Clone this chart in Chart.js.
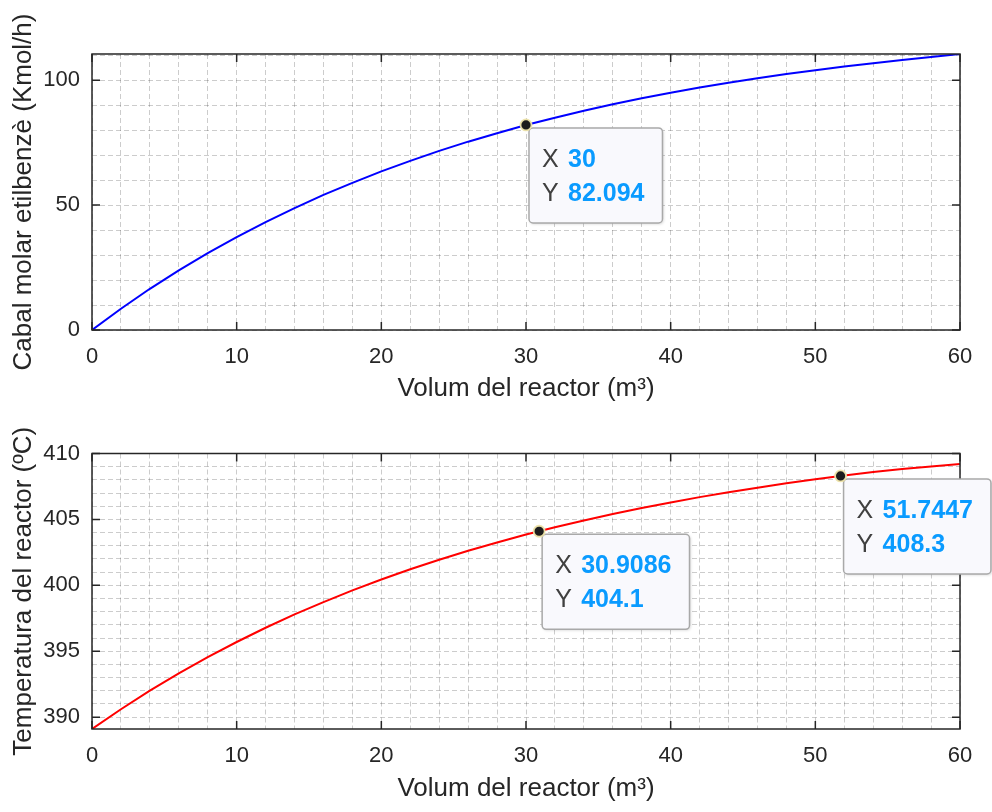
<!DOCTYPE html>
<html><head><meta charset="utf-8">
<script src="https://cdn.jsdelivr.net/npm/chart.js@4.4.1/dist/chart.umd.min.js"></script>
<style>
html,body{margin:0;padding:0;background:#fff;}
#wrap{position:relative;width:992px;height:812px;background:#fff;}
.c{position:absolute;left:0;width:992px;height:406px;}
canvas{display:block;}
</style></head><body>
<div id="wrap">
<div class="c" style="top:0"><canvas id="topChart" width="992" height="406"></canvas></div>
<div class="c" style="top:406px"><canvas id="botChart" width="992" height="406"></canvas></div>
</div>
<script>
// ---- data ----
const volume = [0,2,4,6,8,10,12,14,16,18,20,22,24,26,28,30,32,34,36,38,40,42,44,46,48,50,52,54,56,58,60];
const flowEB = [0,8.5,16.5,23.9,30.8,37.2,43.2,48.8,54.1,58.9,63.5,67.7,71.7,75.4,78.8,82.094,85.0,87.8,90.4,92.8,95.0,97.1,99.0,100.8,102.5,104.0,105.5,106.8,108.1,109.3,110.5];
const tempReactor = [389.1,390.6,392.01,393.32,394.55,395.7,396.78,397.79,398.73,399.62,400.44,401.22,401.94,402.62,403.25,403.85,404.4,404.92,405.41,405.86,406.29,406.69,407.06,407.41,407.74,408.04,408.33,408.6,408.82,409.02,409.2];
const xMajorTicks = [0,10,20,30,40,50,60];
const flowMajorTicks = [0,50,100];
const tempMajorTicks = [390,395,400,405,410];
const flowTipX = [30];
const flowTipY = [82.094];
const tempTipX = [30.9086, 51.7447];
const tempTipY = [404.1, 408.3];
const xTitle = 'Volum del reactor (m³)';
const flowTitle = 'Cabal molar etilbenzè (Kmol/h)';
const tempTitle = 'Temperatura del reactor (ºC)';

const FONT = '"Liberation Sans", Arial, Helvetica, sans-serif';
Chart.defaults.font.family = FONT;
Chart.defaults.color = '#262626';

const matlabAxes = {
  id: 'matlabAxes',
  afterDraw(chart, args, opts) {
    const {ctx, chartArea: a} = chart;
    const x = chart.scales.x, y = chart.scales.y;
    ctx.save();
    ctx.strokeStyle = '#262626';
    ctx.lineWidth = 1.5;
    ctx.beginPath();
    opts.xMajor.forEach(v => {
      const px = x.getPixelForValue(v);
      ctx.moveTo(px, a.bottom); ctx.lineTo(px, a.bottom - 8);
      ctx.moveTo(px, a.top); ctx.lineTo(px, a.top + 8);
    });
    opts.yMajor.forEach(v => {
      const py = y.getPixelForValue(v);
      ctx.moveTo(a.left, py); ctx.lineTo(a.left + 8, py);
      ctx.moveTo(a.right, py); ctx.lineTo(a.right - 8, py);
    });
    ctx.stroke();
    ctx.strokeRect(a.left, a.top, a.right - a.left, a.bottom - a.top);

    // data tips
    opts.tipX.forEach((vx, i) => {
      const vy = opts.tipY[i];
      const px = x.getPixelForValue(vx), py = y.getPixelForValue(vy);
      const sx = String(vx), sy = String(vy);
      ctx.font = 'bold 25px ' + FONT;
      const vw = Math.max(ctx.measureText(sx).width, ctx.measureText(sy).width);
      const bx = px + 3, by = py + 3, bw = 39 + vw + 18, bh = 95;
      ctx.save();
      ctx.shadowColor = 'rgba(0,0,0,0.18)';
      ctx.shadowBlur = 3; ctx.shadowOffsetX = 1; ctx.shadowOffsetY = 1;
      ctx.beginPath();
      ctx.roundRect(bx, by, bw, bh, 4);
      ctx.fillStyle = '#f9f9fd';
      ctx.fill();
      ctx.restore();
      ctx.beginPath();
      ctx.roundRect(bx, by, bw, bh, 4);
      ctx.strokeStyle = '#a9a9a9';
      ctx.lineWidth = 1.5;
      ctx.stroke();
      ctx.textBaseline = 'middle';
      ctx.textAlign = 'left';
      ctx.font = '25px ' + FONT;
      ctx.fillStyle = '#404040';
      ctx.fillText('X', bx + 13, by + 32);
      ctx.fillText('Y', bx + 13, by + 66);
      ctx.font = 'bold 25px ' + FONT;
      ctx.fillStyle = '#0a9bff';
      ctx.fillText(sx, bx + 39, by + 32);
      ctx.fillText(sy, bx + 39, by + 66);
      // marker
      ctx.beginPath();
      ctx.arc(px, py, 5.5, 0, Math.PI * 2);
      ctx.fillStyle = '#1c1c1c';
      ctx.fill();
      ctx.strokeStyle = 'rgba(238,228,170,0.95)';
      ctx.lineWidth = 1.8;
      ctx.stroke();
    });
    ctx.restore();
  }
};

function makeChart(id, yVals, color, yMin, yMax, yStep, yMajor, yTitleText, tipX, tipY, padTop, padBottom, xHeight) {
  const pts = volume.map((v, i) => ({x: v, y: yVals[i]}));
  const gridCommon = {color: 'rgba(0,0,0,0.2)', lineWidth: 1, drawTicks: false};
  return new Chart(document.getElementById(id), {
    type: 'line',
    data: {datasets: [{data: pts, borderColor: color, borderWidth: 2, pointRadius: 0, tension: 0, fill: false}]},
    options: {
      responsive: false,
      animation: false,
      devicePixelRatio: 1,
      layout: {padding: {left: 0, right: 32, top: padTop, bottom: padBottom}},
      plugins: {
        legend: {display: false}, tooltip: {enabled: false},
        matlabAxes: {xMajor: xMajorTicks, yMajor: yMajor, tipX: tipX, tipY: tipY}
      },
      scales: {
        x: {
          type: 'linear', min: 0, max: 60,
          grid: gridCommon,
          border: {display: false, dash: [5, 3]},
          ticks: {stepSize: 2, autoSkip: false, maxRotation: 0, padding: 14, font: {size: 22}, color: '#262626',
            includeBounds: false,
            callback: v => xMajorTicks.includes(v) ? String(v) : ''},
          title: {display: true, text: xTitle, font: {size: 26, lineHeight: 1}, color: '#262626', padding: 0},
          afterFit: s => { s.height = xHeight; }
        },
        y: {
          type: 'linear', min: yMin, max: yMax,
          grid: gridCommon,
          border: {display: false, dash: [5, 3]},
          ticks: {stepSize: yStep, autoSkip: false, padding: 12, font: {size: 22}, color: '#262626',
            includeBounds: false,
            callback: v => yMajor.includes(v) ? String(v) : ''},
          title: {display: true, text: yTitleText, font: {size: 26, lineHeight: 1}, color: '#262626', padding: {top: 11, bottom: 0}},
          afterFit: s => { s.width = 92; }
        }
      }
    },
    plugins: [matlabAxes]
  });
}

makeChart('topChart', flowEB, '#0000ff', 0, 110.5, 10, flowMajorTicks, flowTitle, flowTipX, flowTipY, 54, 4.5, 71.5);
makeChart('botChart', tempReactor, '#ff0000', 389.1, 410, 1, tempMajorTicks, tempTitle, tempTipX, tempTipY, 47.5, 10.5, 72.5);
</script>
</body></html>
